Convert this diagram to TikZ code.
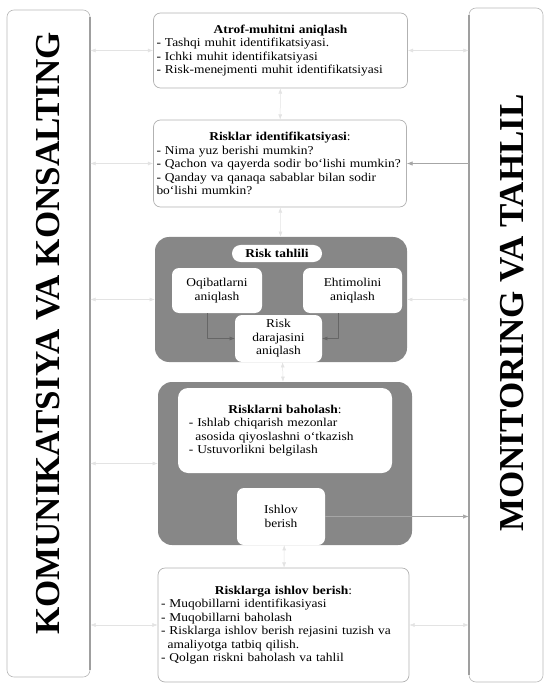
\documentclass[tikz,border=0pt]{standalone}
\usepackage{fontspec}
\setmainfont{Liberation Serif}[FakeStretch=1.12]
\newfontfamily\sideface{Liberation Serif}
\usetikzlibrary{arrows.meta,positioning}

\begin{document}
\begin{tikzpicture}[x=1pt,y=-1pt,>=Latex,line join=round,
  font=\fontsize{12}{13.5}\selectfont,
  sidebox/.style={draw=gray!55,line width=0.6pt,rounded corners=7pt,fill=white},
  sideedge/.style={gray!75,line width=1.8pt},
  bigtext/.style={rotate=90,font=\sideface\fontsize{35}{35}\selectfont\bfseries},
  stepbox/.style={draw=gray!60,line width=0.7pt,rounded corners=7pt,fill=white,
    inner sep=3pt,text width=#1,align=left},
  graybox/.style={fill=black!47,rounded corners=14pt},
  whitebox/.style={fill=white,rounded corners=7pt,align=center,inner sep=2pt},
  link/.style={<->,gray!22,line width=0.5pt},
  seen/.style={->,gray!70,line width=0.6pt},
  inlink/.style={->,black!60,line width=0.5pt}]
  \useasboundingbox (0,0) rectangle (546,684);

  % ---- side frames ---------------------------------------------------------
  \node[sidebox,minimum width=83pt,minimum height=667pt] (komm) at (48.5,343.5) {};
  \draw[sideedge] ([yshift=-7pt]komm.north east) -- ([yshift=7pt]komm.south east);
  \node[bigtext] (kommt) at (48,333.5) {KOMUNIKATSIYA VA KONSALTING};

  \node[sidebox,minimum width=74pt,minimum height=674pt] (monit) at (506,345) {};
  \draw[sideedge] ([yshift=-7pt]monit.north west) -- ([yshift=7pt]monit.south west);
  \node[bigtext] (monitt) at (512,313) {MONITORING VA TAHLIL};

  % ---- steps ---------------------------------------------------------------
  \node[stepbox=248pt,minimum height=75pt] (atrof) at (280.5,50.5)
    {{\centering\textbf{Atrof-muhitni aniqlash}\par}
     - Tashqi muhit identifikatsiyasi.\\
     - Ichki muhit identifikatsiyasi\\
     - Risk-menejmenti muhit identifikatsiyasi};

  \node[stepbox=247pt,minimum height=87pt] (riskid) at (280,163.5)
    {{\centering\textbf{Risklar identifikatsiyasi}:\par}
     - Nima yuz berishi mumkin?\\
     - Qachon va qayerda sodir bo‘lishi mumkin?\\
     - Qanday va qanaqa sabablar bilan sodir\\
     bo‘lishi mumkin?};

  % risk tahlili block
  \node[graybox,minimum width=252pt,minimum height=125pt] (tahlil) at (281,299.5) {};
  \node[whitebox,rounded corners=8.5pt,minimum width=90pt,minimum height=17pt,
        font=\fontsize{12}{13}\selectfont\bfseries] (tahlilt) at (277,253.5) {Risk tahlili};
  \node[whitebox,minimum width=90pt,minimum height=45pt] (oqib) at (217,290.5)
    {Oqibatlarni\\ aniqlash};
  \node[whitebox,minimum width=99pt,minimum height=45pt] (ehtim) at (352.5,290.5)
    {Ehtimolini\\ aniqlash};
  \node[whitebox,minimum width=87pt,minimum height=47pt] (daraja) at (278.5,338.5)
    {Risk\\ darajasini\\ aniqlash};
  \draw[inlink] ([xshift=-10pt]oqib.south) |- (daraja.west);
  \draw[inlink] ([xshift=-14pt]ehtim.south) |- (daraja.east);

  % risklarni baholash block
  \node[graybox,minimum width=254pt,minimum height=163pt] (baho) at (285,463.5) {};
  \node[whitebox,align=left,text width=202pt,inner sep=6pt,minimum height=85pt,
        rounded corners=10pt] (bahot) at (285,430.5)
    {{\centering\textbf{Risklarni baholash}:\par}
     \hspace*{0.4em}- Ishlab chiqarish mezonlar\\
     \hspace*{0.95em}asosida qiyoslashni o‘tkazish\\
     \hspace*{0.4em}- Ustuvorlikni belgilash};
  \node[whitebox,minimum width=88pt,minimum height=57pt] (ishlov) at (281,516.5)
    {Ishlov\\ berish};

  \node[stepbox=245pt,minimum height=114pt] (ishlovga) at (283.5,625)
    {{\centering\textbf{Risklarga ishlov berish}:\par}
     - Muqobillarni identifikasiyasi\\
     - Muqobillarni baholash\\
     - Risklarga ishlov berish rejasini tuzish va\\
     \hspace*{0.55em}amaliyotga tatbiq qilish.\\
     - Qolgan riskni baholash va tahlil};

  % ---- connectors ----------------------------------------------------------
  \draw[link] (atrof) -- (riskid);
  \draw[link] (riskid) -- (tahlil);
  \draw[link] (tahlil) -- (baho);
  \draw[link] (baho) -- (ishlovga);
  \foreach \s in {atrof,riskid,tahlil,baho,ishlovga}
    \draw[link] (\s.west -| komm.east) -- (\s.west);
  \foreach \s in {atrof,tahlil,ishlovga}
    \draw[link] (\s.east) -- (\s.east -| monit.west);
  \draw[seen] (riskid.east -| monit.west) -- (riskid.east);
  \draw[seen] (ishlov.east) -- (ishlov.east -| monit.west);
\end{tikzpicture}
\end{document}
